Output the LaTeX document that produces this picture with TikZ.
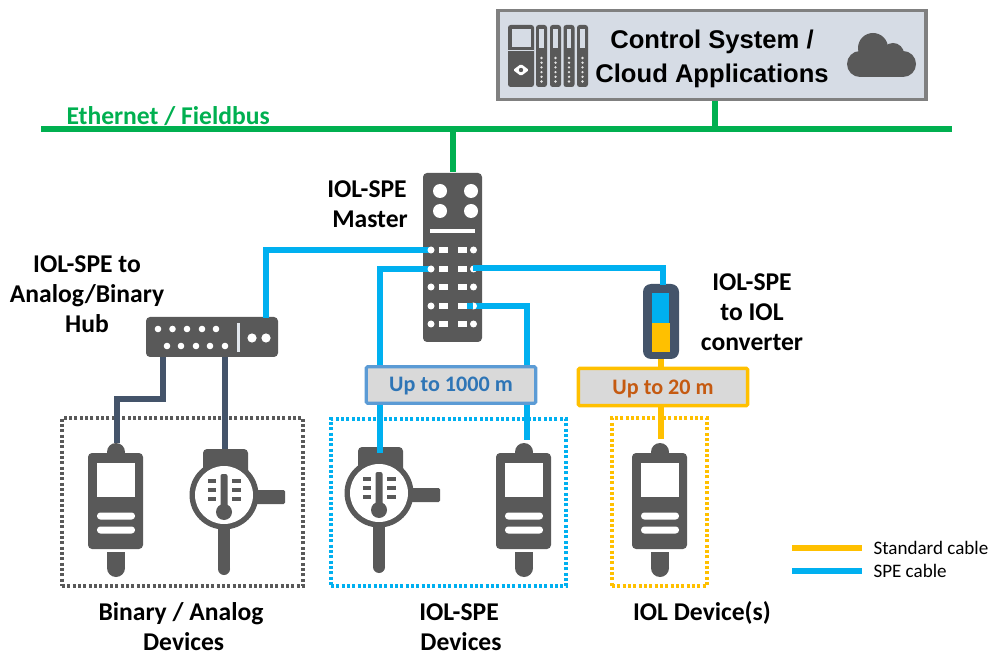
\documentclass[tikz,border=0pt]{standalone}
\usepackage{fontspec}
\setmainfont{Carlito}
\newfontfamily\ctrlfont{Liberation Sans}
\definecolor{devgrey}{RGB}{89,89,89}
\definecolor{busgreen}{RGB}{0,176,80}
\definecolor{speblue}{RGB}{0,176,240}
\definecolor{stdyellow}{RGB}{255,192,0}
\definecolor{slate}{RGB}{68,84,106}
\definecolor{ctrlfill}{RGB}{214,220,229}
\definecolor{ctrlline}{RGB}{128,128,128}
\definecolor{tagfill}{RGB}{217,217,217}
\definecolor{tagblue}{RGB}{91,155,213}
\definecolor{tagtextblue}{RGB}{46,117,182}
\definecolor{tagtextorange}{RGB}{197,90,17}
\tikzset{every picture/.style={line width=0.75pt}}
\tikzset{
  bus/.style={draw=busgreen,line width=3.8pt},
  spe/.style={draw=speblue,line width=3.8pt},
  std/.style={draw=stdyellow,line width=3.8pt},
  analog/.style={draw=slate,line width=3.8pt},
  devbody/.style={fill=devgrey,draw=none,rounded corners=3pt,inner sep=0pt},
  dotbox/.style={line width=2.3pt,dash pattern={on 2.2pt off 1.8pt}},
  labeltext/.style={font=\fontsize{19.2}{22.5}\selectfont\bfseries,align=center,inner sep=0pt},
  tagbox/.style={fill=tagfill,inner sep=0pt,text height=10.5pt,text depth=0pt,font=\fontsize{16.6}{18}\selectfont\bfseries,rounded corners=1pt},
  every pic/.style={yscale=-1},
  pics/sensor/.style={code={
    \fill[devgrey] (0,9) circle (9);
    \fill[devgrey,rounded corners=3pt] (-28,106) -- (-28,10) -- (27,10) -- (27,106) -- cycle;
    \fill[white] (-19,20) rectangle (19,54);
    \fill[white,rounded corners=2.5pt] (-19,69.5) rectangle (19,76.5);
    \fill[white,rounded corners=2.5pt] (-19,83.5) rectangle (19,90.5);
    \fill[devgrey] (-9,109) rectangle (9,125);
    \fill[devgrey] (0,125) circle (9);
  }},
  pics/gauge/.style={code={
    \fill[devgrey,rounded corners=3pt] (-21,-46) rectangle (24,-15);
    \fill[devgrey] (0,0) circle (34.5);
    \fill[devgrey,rounded corners=1pt] (25,-5) rectangle (61,9);
    \fill[devgrey] (-6,28) rectangle (6,74);
    \fill[devgrey] (0,74) circle (6);
    \fill[white] (0,0) circle (29);
    \fill[devgrey,rounded corners=1.5pt] (-3.5,-21) rectangle (3.5,17);
    \fill[devgrey] (0,17) circle (8);
    \foreach \ty in {-14,-5,4} {
      \fill[devgrey] (-16,\ty-2) rectangle (-8,\ty+2);
      \fill[devgrey] (8,\ty-2) rectangle (17,\ty+2);
    }
  }},
}

\begin{document}
\begin{tikzpicture}[x=0.75pt,y=0.75pt,yscale=-1,xscale=1]
\useasboundingbox (0,0) rectangle (991,655);

%Shape: Dotted groups
\node (groupBinary) [dotbox,draw=devgrey,minimum width=180.75pt,minimum height=126pt,inner sep=0pt] at (182.5,502) {};
\node (groupSpe) [dotbox,draw=speblue,minimum width=176.25pt,minimum height=125.25pt,inner sep=0pt] at (448.5,502.5) {};
\node (groupIol) [dotbox,draw=stdyellow,minimum width=71.25pt,minimum height=126pt,inner sep=0pt] at (659.5,502) {};

%Shape: Main boxes
\node (ctrlBox) [draw=ctrlline,fill=ctrlfill,line width=2.6pt,minimum width=321pt,minimum height=67pt,inner sep=0pt] at (712,55) {};
\node (master) [devbody,minimum width=44.25pt,minimum height=126.75pt] at (452.5,257.5) {};
\node (hub) [devbody,minimum width=99pt,minimum height=30pt] at (212,337) {};
\node (converter) [fill=slate,rounded corners=6pt,inner sep=0pt,minimum width=27pt,minimum height=56.25pt] at (661,321.5) {};

%Coordinates of the ports and cable ends
\coordinate (busLeft) at (41,129);
\coordinate (busRight) at (952,129);
\coordinate (busCtrl) at (715,129);
\coordinate (busMaster) at (453,129);
\coordinate (portA) at (431,250);
\coordinate (portB) at (431,269);
\coordinate (portC) at (473,268);
\coordinate (portD) at (467,306);
\coordinate (hubUp) at (266,318);
\coordinate (hubOutA) at (163,357);
\coordinate (hubOutB) at (225,357);
\coordinate (endGaugeA) at (225,449);
\coordinate (endSensorA) at (117,443);
\coordinate (endGaugeB) at (380,453);
\coordinate (endSensorB) at (527,440);
\coordinate (endSensorC) at (661,439);
\coordinate (convTop) at (663,285);

%Straight Lines: cables
\draw [bus] (busLeft) -- (busRight);
\draw [bus] (ctrlBox.south -| busCtrl) -- (busCtrl);
\draw [bus] (busMaster) -- (master.north -| busMaster);
\draw [spe] (hubUp) |- (portA);
\draw [spe] (portB) -| (380,440);
\draw [spe] (portC) -| (convTop);
\draw [spe] (portD) -| (endSensorB);
\draw [analog] (hubOutA) -- (163,399) -| (endSensorA);
\draw [analog] (hubOutB) -- (endGaugeA);
\draw [std] (converter.south -| endSensorC) -- (endSensorC);

%Shape: Master ports
\foreach \cx/\cy in {440/191,471/191,440/211,471/211}
  \fill [white] (\cx,\cy) circle (7);
\fill [white] (430,229.5) rectangle (475,233);
\foreach \py in {250,269,287,306,324} {
  \fill [white] (431,\py) circle (3.5);
  \fill [white] (438.5,\py-3.2) rectangle (447.5,\py+3.2);
  \fill [white] (458,\py-3.2) rectangle (467,\py+3.2);
  \fill [white] (473.5,\py) circle (3.5);
}
\draw [spe] (portC) -- ++(6,0);
\draw [spe] (portD) -- ++(6,0);

%Shape: Hub ports
\foreach \hx in {158,172.5,187,202,216}
  \fill [white] (\hx,329) circle (3.3);
\foreach \hx in {167,181,196,210,225}
  \fill [white] (\hx,346) circle (3.3);
\fill [ctrlfill!70!white] (237,323) rectangle (240,352.5);
\foreach \hx in {252,266}
  \fill [white] (\hx,338) circle (4.6);

%Shape: Converter
\fill [speblue] (652,293) rectangle (669,323);
\fill [stdyellow] (652,323) rectangle (670,352);

%Shape: Devices
\pic at (116,443) {sensor};
\pic at (224,495) {gauge};
\pic at (379,493) {gauge};
\pic at (524,443) {sensor};
\pic at (660,443) {sensor};
\draw [spe] (380,440) -- (endGaugeB);

%Shape: Controller icon
\fill [devgrey,rounded corners=2pt] (508,25) rectangle (534,87);
\fill [ctrlfill] (511.5,29) rectangle (531,47);
\fill [ctrlfill] (508,50) rectangle (534,50.8);
\fill [white,rounded corners=1pt] (521,64) -- (529,70) -- (521,76) -- (513,70) -- cycle;
\fill [devgrey] (521,70) circle (2.2);
\foreach \mx in {536,550,563.5,577} {
  \fill [devgrey,rounded corners=2pt] (\mx,25) rectangle (\mx+11,87);
  \fill [ctrlfill] (\mx+3.2,29) rectangle (\mx+7.8,48);
  \foreach \my in {58,62.7,67.4,72.1,76.8,81.5}
    \fill [white!85!devgrey] (\mx+5.5,\my) circle (1.3);
}

%Shape: Cloud
\fill [devgrey] (873,48) circle (15);
\fill [devgrey] (893,54) circle (11);
\fill [devgrey] (860,64) circle (13);
\fill [devgrey] (903,64) circle (13);
\fill [devgrey] (860,55) rectangle (903,77);

%Shape: Length tags
\node (tagSpe) [tagbox,draw=tagblue,line width=2.4pt,text=tagtextblue,minimum width=127pt,minimum height=27.5pt] at (451,385) {Up to 1000 m};
\node (tagStd) [tagbox,draw=stdyellow,line width=2.6pt,text=tagtextorange,minimum width=127pt,minimum height=28pt] at (663,387) {Up to 20 m};

%Straight Lines: legend
\coordinate (legStdA) at (792,548);
\coordinate (legStdB) at (862,548);
\coordinate (legSpeA) at (792,571);
\coordinate (legSpeB) at (862,571);
\draw [std] (legStdA) -- (legStdB);
\draw [spe] (legSpeA) -- (legSpeB);

% Text Node
\node (ctrlText) [font=\ctrlfont\fontsize{19.2}{25}\selectfont\bfseries,align=center,inner sep=0pt] at (712,59) {Control System /\\Cloud Applications};
% Text Node
\node (busText) [labeltext,text=busgreen,anchor=west] at (66,116) {Ethernet / Fieldbus};
% Text Node
\node (masterText) [labeltext] at (367,204) {IOL-SPE\\\hspace*{4.5pt}Master};
% Text Node
\node (hubText) [labeltext] at (87,294.5) {IOL-SPE to\\Analog/Binary\\Hub};
% Text Node
\node (convText) [labeltext] at (752,312.5) {IOL-SPE\\to IOL\\converter};
% Text Node
\node (binaryText) [labeltext] at (181,627) {Binary / Analog\\\hspace*{4pt}Devices};
% Text Node
\node (speText) [labeltext] at (459,627) {IOL-SPE\\\hspace*{3pt}Devices};
% Text Node
\node (iolText) [labeltext] at (702,612.5) {IOL Device(s)};
% Text Node
\node (legStdText) [anchor=west,inner sep=0pt,font=\fontsize{14.3}{16}\selectfont] at (873,548) {Standard cable};
% Text Node
\node (legSpeText) [anchor=west,inner sep=0pt,font=\fontsize{14.3}{16}\selectfont] at (873,571) {SPE cable};

\end{tikzpicture}
\end{document}
